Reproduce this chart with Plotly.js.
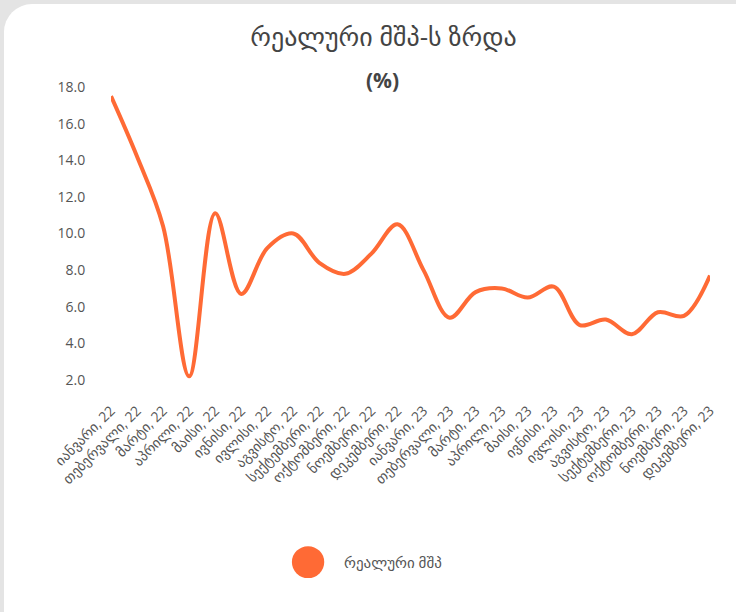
<!DOCTYPE html>
<html>
<head>
<meta charset="utf-8">
<script src="https://cdn.plot.ly/plotly-3.0.1.min.js"></script>
<style>
  html, body { margin: 0; padding: 0; background: #e4e4e4; width: 736px; height: 612px; overflow: hidden; }
  #card { position: absolute; left: 4px; top: 4px; width: 760px; height: 640px; background: #fff; border-radius: 28px; }
  #chart { position: absolute; left: 0; top: 0; width: 736px; height: 612px; }
</style>
</head>
<body>
<div id="card"></div>
<div id="chart"></div>
<script>
const categories = [
  "იანვარი, 22", "თებერვალი, 22", "მარტი, 22", "აპრილი, 22", "მაისი, 22", "ივნისი, 22",
  "ივლისი, 22", "აგვისტო, 22", "სექტემბერი, 22", "ოქტომბერი, 22", "ნოემბერი, 22", "დეკემბერი, 22",
  "იანვარი, 23", "თებერვალი, 23", "მარტი, 23", "აპრილი, 23", "მაისი, 23", "ივნისი, 23",
  "ივლისი, 23", "აგვისტო, 23", "სექტემბერი, 23", "ოქტომბერი, 23", "ნოემბერი, 23", "დეკემბერი, 23"
];
const gdpGrowth = [17.5, 14.2, 10.4, 2.2, 11.1, 6.7, 9.2, 10.0, 8.4, 7.8, 8.9, 10.5,
                   8.0, 5.4, 6.8, 7.0, 6.5, 7.1, 5.0, 5.3, 4.5, 5.7, 5.5, 7.7];
const yTicks = [2, 4, 6, 8, 10, 12, 14, 16, 18];
const seriesName = "რეალური მშპ";
const titleText = "რეალური მშპ-ს ზრდა";
const subtitleText = "(%)";

const orange = "#ff6a35";
const font = "'Open Sans', 'DejaVu Sans', sans-serif";

const trace = {
  x: categories.map((c, i) => i),
  y: gdpGrowth,
  type: "scatter",
  mode: "lines",
  name: seriesName,
  line: { color: orange, width: 4, shape: "spline", smoothing: 1 },
  showlegend: false,
  hoverinfo: "y"
};

const layout = {
  width: 736, height: 612,
  paper_bgcolor: "rgba(0,0,0,0)",
  plot_bgcolor: "rgba(0,0,0,0)",
  margin: { l: 111, r: 26, t: 87, b: 232 },
  showlegend: false,
  title: {
    text: titleText,
    font: { family: font, size: 26, color: "#444" },
    x: 0.521, xanchor: "center", y: 0.94, yanchor: "middle"
  },
  xaxis: {
    range: [0, categories.length - 1],
    tickmode: "array",
    tickvals: categories.map((c, i) => i),
    ticktext: categories,
    tickangle: -45,
    ticks: "outside", ticklen: 16, tickcolor: "rgba(0,0,0,0)",
    showgrid: false, zeroline: false, showline: false,
    tickfont: { family: font, size: 14, color: "#555" },
    fixedrange: true
  },
  yaxis: {
    range: [2, 18],
    tickmode: "array",
    tickvals: yTicks,
    ticktext: yTicks.map(v => v.toFixed(1)),
    ticks: "outside", ticklen: 22, tickcolor: "rgba(0,0,0,0)",
    showgrid: false, zeroline: false, showline: false,
    tickfont: { family: font, size: 14, color: "#555" },
    fixedrange: true
  },
  annotations: [
    {
      text: "<b>" + subtitleText + "</b>",
      xref: "paper", yref: "paper",
      x: 0.454, y: 1.025, xanchor: "center", yanchor: "middle",
      showarrow: false,
      font: { family: font, size: 21, color: "#444" }
    },
    {
      text: seriesName,
      xref: "paper", yref: "paper",
      x: 0.386, y: -0.621, xanchor: "left", yanchor: "middle",
      showarrow: false,
      font: { family: font, size: 15, color: "#555" }
    }
  ],
  shapes: [
    {
      type: "circle", xref: "paper", yref: "paper",
      x0: 0.302, x1: 0.356, y0: -0.567, y1: -0.676,
      fillcolor: orange, line: { width: 0 }
    }
  ]
};

Plotly.newPlot("chart", [trace], layout, { displayModeBar: false, staticPlot: true });
</script>
</body>
</html>
